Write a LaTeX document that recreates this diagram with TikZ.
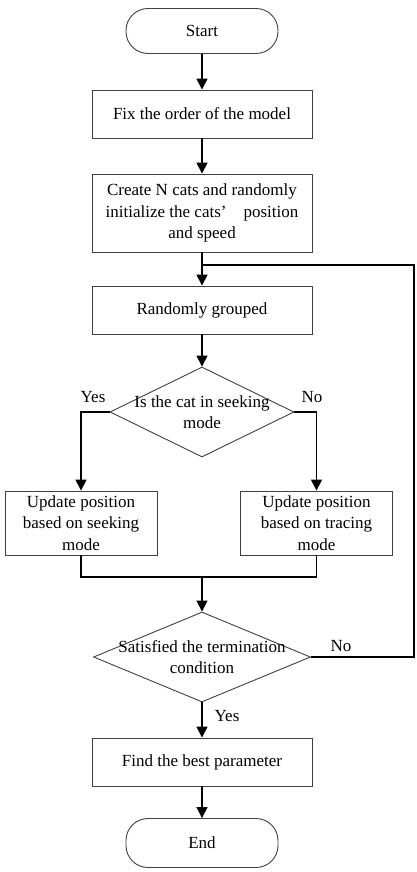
\documentclass[tikz,border=0pt]{standalone}
\usepackage{fontspec}
\setmainfont{Liberation Serif}
\usetikzlibrary{arrows.meta, shapes.geometric}

\begin{document}
\begin{tikzpicture}[x=1pt, y=-1pt,
  txt/.style={font=\fontsize{17}{21.5}\selectfont},
  term/.style={rectangle, rounded corners=22pt, draw=black!75, line width=0.9pt,
              minimum width=152pt, minimum height=#1, txt},
  proc/.style={rectangle, draw=black!75, line width=0.9pt, align=center,
              minimum width=220pt, minimum height=#1, txt},
  sub/.style={rectangle, draw=black!75, line width=0.9pt, align=center,
              minimum width=152pt, minimum height=64pt, txt},
  dec/.style={diamond, draw=black!75, line width=0.9pt, inner sep=0pt,
              minimum width=#1, minimum height=90pt},
  arr/.style={-{Triangle[length=11pt, width=11pt]}, line width=1.6pt},
  lnk/.style={line width=1.6pt},
  lbl/.style={txt}
]
\useasboundingbox (0,0) rectangle (417,872);

\node[term=45pt]  (start)   at (202,31)  {Start};
\node[proc=48pt]  (fix)     at (202,114) {Fix the order of the model};
\node[proc=78pt]  (create)  at (202,213) {Create N cats and randomly\\initialize the cats’\quad position\\and speed};
\node[proc=48pt]  (group)   at (202,310) {Randomly grouped};
\node[dec=184pt, label={[txt, align=center]center:Is the cat in seeking\\mode}]
                  (seek)    at (202,412) {};
\node[sub]        (upseek)  at (81,523)  {Update position\\based on seeking\\mode};
\node[sub]        (uptrace) at (316.5,523) {Update position\\based on tracing\\mode};
\node[dec=217pt, label={[txt, align=center]center:Satisfied the termination\\condition}]
                  (stop)    at (202,657) {};
\node[proc=48pt]  (best)    at (202,762) {Find the best parameter};
\node[term=49pt]  (end)     at (202,843) {End};

\coordinate (merge) at (202,577);
\coordinate (join)  at (202,265);
\coordinate (back)  at (414,657);

% main flow
\draw[arr] (start) -- (fix);
\draw[arr] (fix) -- (create);
\draw[arr] (create) -- (group);
\draw[arr] (group) -- (seek);
\draw[arr] (seek.west) -| (upseek);
\draw[arr] (seek.east) -| (uptrace);
\draw[lnk] (upseek) |- (merge) -| (uptrace);
\draw[arr] (merge) -- (stop);
\draw[arr] (stop) -- (best);
\draw[arr] (best) -- (end);
% loop back
\draw[lnk] (stop.east) -- (back) |- (join);

\node[lbl] (yes1) at (93,397)  {Yes};
\node[lbl] (no1)  at (312,397) {No};
\node[lbl] (no2)  at (341,646) {No};
\node[lbl] (yes2) at (227,716) {Yes};
\end{tikzpicture}
\end{document}
